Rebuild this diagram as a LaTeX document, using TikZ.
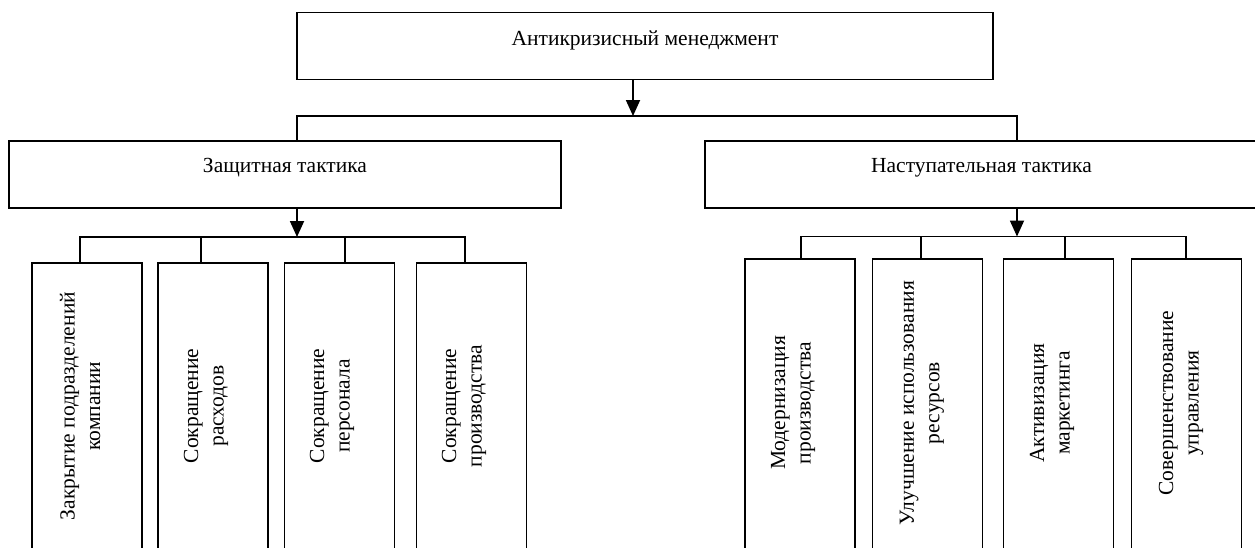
\documentclass[tikz,border=0pt]{standalone}
\usepackage{fontspec}
\setmainfont{Liberation Serif}
\usetikzlibrary{arrows.meta}
\tikzset{
  boxnode/.style={draw=black, line width=1.8pt, inner sep=0pt, fill=white},
  wide/.style={boxnode, minimum width=#1, minimum height=67pt},
  tall/.style={boxnode, minimum width=110pt, minimum height=292pt},
  lbl/.style={inner sep=0pt, font=\fontsize{21.5}{25.5}\selectfont},
  vlbl/.style={lbl, rotate=90, align=center},
  conn/.style={line width=1.8pt, line join=miter},
  arr/.style={conn, -{Triangle[width=14pt,length=16pt]}}
}
\begin{document}
\begin{tikzpicture}[x=1pt,y=-1pt]
\useasboundingbox (0,0) rectangle (1255,547);
\clip (0,0) rectangle (1255,547);
% top level
\node[wide=696pt] (top) at (645,46) {};
\node[lbl, anchor=base] (toptext) at (645,45) {Антикризисный менеджмент};
% second level
\node[wide=552pt] (def) at (285,174.5) {};
\node[lbl, anchor=base] (deftext) at (285,172) {Защитная тактика};
\node[wide=553pt] (att) at (981.5,174.5) {};
\node[lbl, anchor=base] (atttext) at (981.5,172) {Наступательная тактика};
% defensive children
\node[tall, anchor=north] (d1) at (87,262) {};
\node[tall, anchor=north] (d2) at (213,262) {};
\node[tall, anchor=north] (d3) at (339.5,262) {};
\node[tall, anchor=north] (d4) at (471.5,262) {};
\node[vlbl] (d1t) at (80,406) {Закрытие подразделений\\компании};
\node[vlbl] (d2t) at (206,406) {Сокращение\\расходов};
\node[vlbl] (d3t) at (332,406) {Сокращение\\персонала};
\node[vlbl] (d4t) at (464,406) {Сокращение\\производства};
% offensive children
\node[tall, anchor=north] (a1) at (800,258) {};
\node[tall, anchor=north] (a2) at (927.5,258) {};
\node[tall, anchor=north] (a3) at (1058.5,258) {};
\node[tall, anchor=north] (a4) at (1186.5,258) {};
\node[vlbl] (a1t) at (793,403) {Модернизация\\производства};
\node[vlbl] (a2t) at (922,403) {Улучшение использования\\ресурсов};
\node[vlbl] (a3t) at (1052,403) {Активизация\\маркетинга};
\node[vlbl] (a4t) at (1181,403) {Совершенствование\\управления};
% junction coordinates
\coordinate (tj) at (633,116);
\coordinate (bl) at (297,116);
\coordinate (br) at (1017,116);
\coordinate (dj) at (297,237);
\coordinate (t1) at (80,237);
\coordinate (t2) at (201,237);
\coordinate (t3) at (345,237);
\coordinate (t4) at (465,237);
\coordinate (aj) at (1017,236.5);
\coordinate (u1) at (801,236.5);
\coordinate (u2) at (921,236.5);
\coordinate (u3) at (1065,236.5);
\coordinate (u4) at (1186,236.5);
% connectors
\draw[arr] (top.south -| tj) -- (tj);
\draw[conn] (def.north -| bl) -- (bl) -- (br) -- (att.north -| br);
\draw[arr] (def.south -| dj) -- (dj);
\draw[conn] (d1.north -| t1) -- (t1) -- (t4) -- (d4.north -| t4);
\draw[conn] (t2) -- (d2.north -| t2);
\draw[conn] (t3) -- (d3.north -| t3);
\draw[arr] (att.south -| aj) -- (aj);
\draw[conn] (a1.north -| u1) -- (u1) -- (u4) -- (a4.north -| u4);
\draw[conn] (u2) -- (a2.north -| u2);
\draw[conn] (u3) -- (a3.north -| u3);
\end{tikzpicture}
\end{document}
